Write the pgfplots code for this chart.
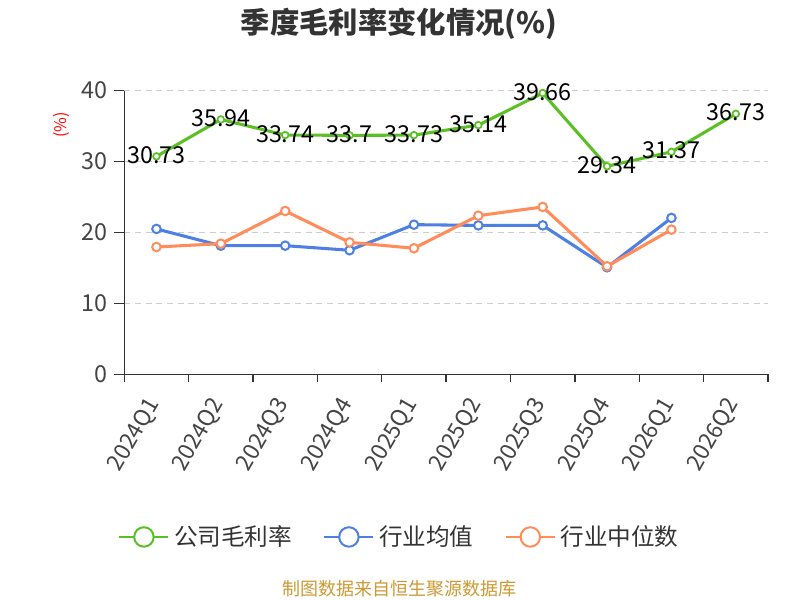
\documentclass[border=0pt]{standalone}
\usepackage{fontspec}
\setmainfont{Noto Sans CJK SC}
\usepackage{pgfplots}
\pgfplotsset{compat=1.18}
\definecolor{cgreen}{RGB}{91,192,38}
\definecolor{cblue}{RGB}{78,128,228}
\definecolor{corange}{RGB}{255,140,90}
\definecolor{cgrid}{RGB}{204,204,204}
\definecolor{caxis}{RGB}{51,51,51}
\definecolor{ctick}{RGB}{68,68,68}
\definecolor{cfoot}{RGB}{204,153,51}
\begin{document}
\begin{tikzpicture}
\path[use as bounding box] (0,0) rectangle (600pt,450pt);
\begin{axis}[
  at={(93.2pt,169.3pt)}, anchor=south west,
  width=482.8pt, height=212.7pt, scale only axis,
  xmin=-0.5, xmax=9.5, ymin=0, ymax=40,
  clip=false,
  axis lines=left,
  axis line style={-, caxis, line width=1.1pt},
  /pgf/number format/assume math mode=true,
  xtick={0,1,2,3,4,5,6,7,8,9},
  xticklabels={2024Q1,2024Q2,2024Q3,2024Q4,2025Q1,2025Q2,2025Q3,2025Q4,2026Q1,2026Q2},
  minor xtick={-0.5,0.5,1.5,2.5,3.5,4.5,5.5,6.5,7.5,8.5,9.5},
  ytick={0,10,20,30,40},
  tick align=outside,
  major tick length=7.5pt,
  minor tick length=6pt,
  major x tick style={draw=none},
  minor x tick style={caxis, line width=1.1pt},
  major y tick style={caxis, line width=1.1pt},
  ymajorgrids,
  grid style={cgrid, line width=0.8pt, dash pattern=on 4.5pt off 3.5pt},
  tick label style={font=\fontsize{17.5pt}{19pt}\selectfont, color=ctick},
  xticklabel style={xshift=-1.5pt, yshift=-12pt, rotate=60, anchor=east, inner sep=0pt, font=\fontsize{17pt}{19pt}\selectfont},
  yticklabel style={inner sep=0pt, xshift=-5pt},
  legend style={at={(0.4295,-0.5737)}, anchor=center, draw=none, fill=none,
    legend columns=3, font=\fontsize{17.7pt}{20pt}\selectfont, text=caxis,
    /tikz/every even column/.append style={column sep=20pt},
    nodes={inner sep=3.5pt}},
  legend cell align=left,
]
\addplot[cgreen, line width=2.3pt, mark=*, mark size=2.5pt,
  mark options={fill=white, draw=cgreen, line width=1.3pt},
  nodes near coords={\pgfmathprintnumber[fixed,precision=2,assume math mode=true]{\pgfplotspointmeta}},
  every node near coord/.append style={font=\fontsize{17.5pt}{19pt}\selectfont, color=black, anchor=center, yshift=1pt},
  legend image code/.code={\draw[cgreen, line width=1.5pt] (0pt,0pt) -- (36.75pt,0pt); \draw[cgreen, line width=1.5pt, fill=white] (18.4pt,0pt) circle (7.3pt);}]
coordinates {(0,30.73) (1,35.94) (2,33.74) (3,33.7) (4,33.73) (5,35.14) (6,39.66) (7,29.34) (8,31.37) (9,36.73)};
\addlegendentry{公司毛利率}
\addplot[cblue, line width=2.3pt, mark=*, mark size=3.2pt,
  mark options={fill=white, draw=cblue, line width=1.5pt},
  legend image code/.code={\draw[cblue, line width=1.5pt] (0pt,0pt) -- (36.75pt,0pt); \draw[cblue, line width=1.5pt, fill=white] (18.4pt,0pt) circle (7.3pt);}]
coordinates {(0,20.5) (1,18.14) (2,18.14) (3,17.49) (4,21.1) (5,21.0) (6,21.0) (7,15.09) (8,22.05)};
\addlegendentry{行业均值}
\addplot[corange, line width=2.3pt, mark=*, mark size=3.2pt,
  mark options={fill=white, draw=corange, line width=1.5pt},
  legend image code/.code={\draw[corange, line width=1.5pt] (0pt,0pt) -- (36.75pt,0pt); \draw[corange, line width=1.5pt, fill=white] (18.4pt,0pt) circle (7.3pt);}]
coordinates {(0,17.95) (1,18.42) (2,23.03) (3,18.61) (4,17.77) (5,22.37) (6,23.6) (7,15.23) (8,20.4)};
\addlegendentry{行业中位数}
\node[font=\bfseries\fontsize{22pt}{25pt}\selectfont, text=caxis] at (rel axis cs:0.4268,1.236) {季度毛利率变化情况(\%)};
\node[font=\fontsize{12pt}{14pt}\selectfont, text=red, rotate=90] at (rel axis cs:-0.0968,0.879) {(\%)};
\node[font=\fontsize{13.5pt}{15pt}\selectfont, text=cfoot] at (rel axis cs:0.4283,-0.757) {制图数据来自恒生聚源数据库};
\end{axis}
\end{tikzpicture}
\end{document}
